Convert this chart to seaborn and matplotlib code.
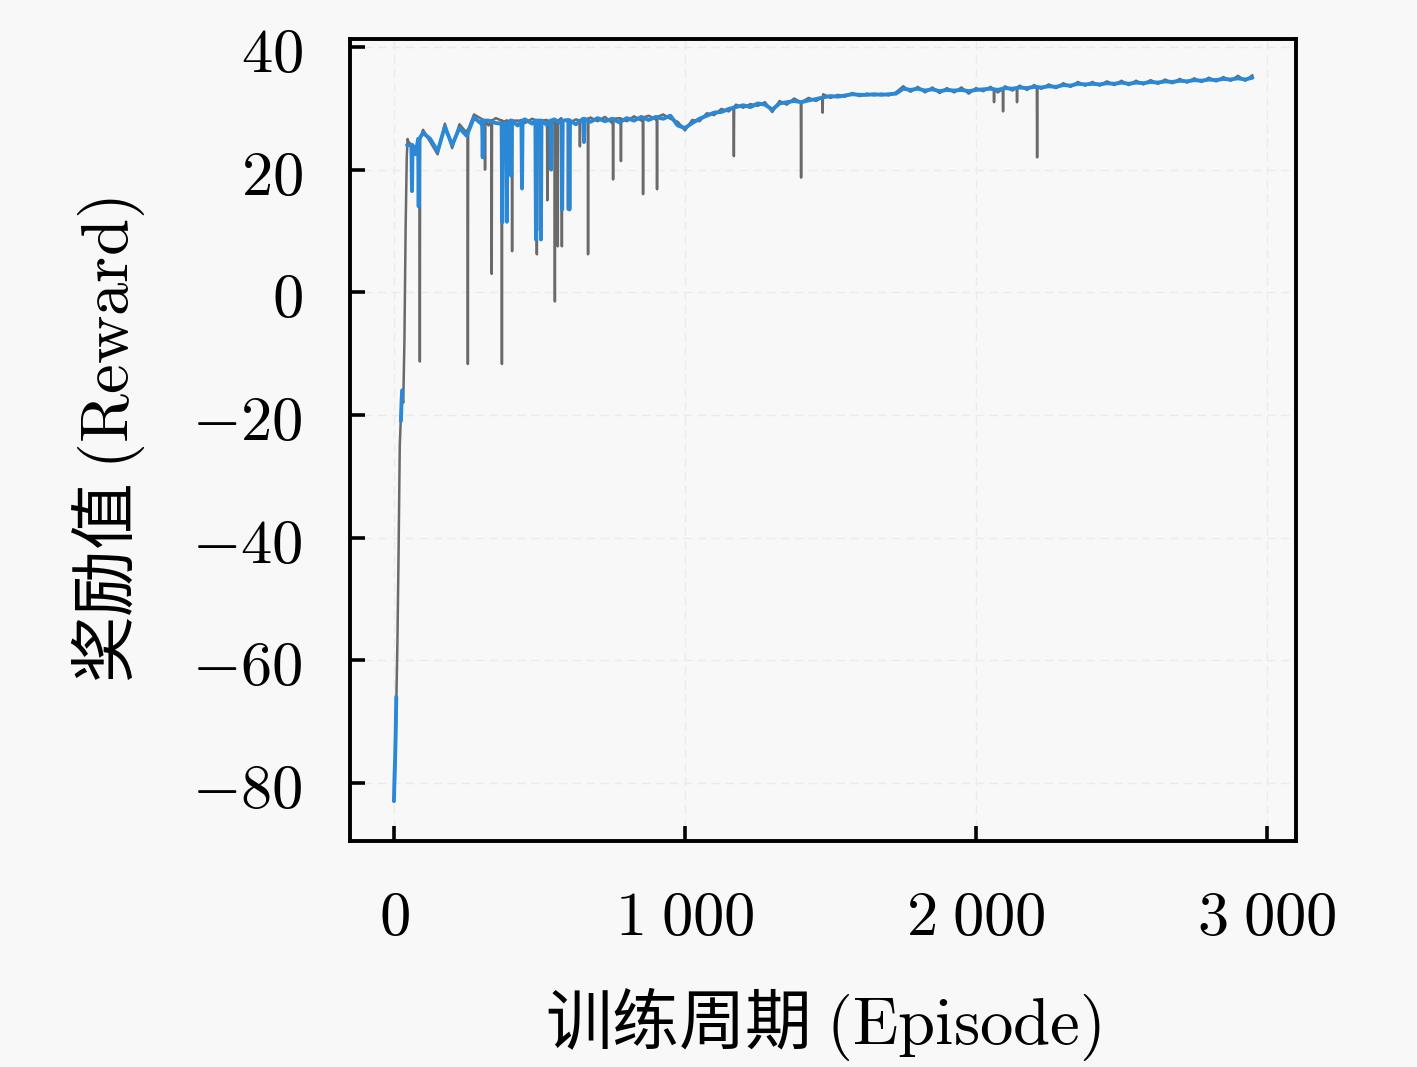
"""
Training reward curve (reward vs. episode), raw and smoothed.
Saves the figure to out.png.
"""

import numpy as np
import pandas as pd
import matplotlib
matplotlib.use("Agg")
import matplotlib.pyplot as plt
import seaborn as sns
from matplotlib.ticker import FuncFormatter

# ---------------------------------------------------------------- data
# early ramp (episodes 0-47)
ramp_ep = [0, 3, 6, 9, 12, 16, 20, 24, 28, 32, 36, 40, 44, 47]
ramp_gray = [-83, -80, -72, -65, -57, -42, -25, -20, -17, -18, -8, 10, 22, 25]
ramp_blue_low_ep = [0, 2, 4, 6, 8]
ramp_blue_low = [-83, -79, -76, -72, -66]
ramp_blue_mid_ep = [24, 26, 28]
ramp_blue_mid = [-21, -18, -16]

# band sampled every 25 episodes from 50 to 2950
band_ep = list(range(50, 2951, 25))
band_blue = [
    24.0, 22.5, 26.0, 25.0, 23.0, 27.0, 24.0, 26.8, 25.5, 28.5,
    27.5, 28.0, 27.6, 27.0, 28.0, 27.2, 28.2, 27.5, 28.0, 27.3,
    28.2, 27.6, 28.1, 27.4, 28.3, 27.8, 28.4, 27.9, 28.3, 27.7,
    28.4, 28.0, 28.6, 28.1, 28.6, 28.3, 28.8, 27.2, 26.8, 27.6,
    28.3, 28.8, 29.3, 29.4, 29.9, 30.2, 30.5, 30.2, 30.8, 30.6,
    29.8, 30.8, 31.0, 31.2, 31.0, 31.3, 31.5, 31.8, 32.0, 31.9,
    32.1, 32.3, 32.2, 32.2, 32.3, 32.2, 32.3, 32.4, 33.2, 33.0,
    33.2, 32.9, 33.1, 32.8, 33.0, 32.9, 33.0, 32.8, 33.0, 33.1,
    33.2, 33.0, 33.3, 33.2, 33.4, 33.3, 33.5, 33.4, 33.6, 33.5,
    33.8, 33.7, 34.0, 33.9, 34.0, 33.9, 34.1, 34.0, 34.2, 34.0,
    34.2, 34.1, 34.3, 34.2, 34.4, 34.3, 34.5, 34.4, 34.6, 34.5,
    34.7, 34.6, 34.8, 34.7, 34.9, 34.7, 35.0,
]
band_gray = [
    24.5, 23.5, 26.5, 24.5, 22.5, 27.5, 23.5, 27.4, 26.0, 29.0,
    28.3, 27.2, 28.4, 27.8, 27.3, 28.0, 27.6, 28.3, 27.4, 28.1,
    27.6, 28.4, 27.5, 28.2, 27.7, 28.5, 27.9, 28.6, 27.6, 28.4,
    27.9, 28.7, 28.0, 28.8, 28.2, 29.0, 28.3, 27.8, 26.4, 28.1,
    27.9, 29.2, 28.9, 29.9, 29.5, 30.6, 30.1, 30.7, 30.4, 31.0,
    29.4, 31.2, 30.6, 31.6, 30.7, 31.7, 31.2, 32.3, 31.7, 32.2,
    31.9, 32.5, 32.0, 32.4, 32.1, 32.4, 32.1, 32.6, 33.6, 32.7,
    33.5, 32.6, 33.4, 32.5, 33.3, 32.6, 33.4, 32.4, 33.3, 32.8,
    33.5, 32.6, 33.6, 32.9, 33.7, 33.0, 33.8, 33.2, 33.9, 33.3,
    34.1, 33.5, 34.3, 33.7, 34.3, 33.7, 34.4, 33.8, 34.5, 33.8,
    34.5, 33.9, 34.6, 34.0, 34.7, 34.1, 34.8, 34.2, 34.9, 34.3,
    35.0, 34.4, 35.1, 34.5, 35.3, 34.5, 35.4,
]

# deep drops in the raw reward: episode, lowest value, level around it
gray_spike_ep = [89, 254, 313, 336, 371, 388, 406, 440, 491, 502, 527, 553,
                 563, 577, 598, 639, 667, 753, 780, 856, 904, 1168, 1399,
                 1473, 2062, 2093, 2141, 2210]
gray_spike_low = [-11.3, -11.7, 20.0, 3.0, -11.7, 22.8, 6.7, 16.8, 6.2, 10.0,
                  15.0, -1.5, 7.5, 7.5, 13.5, 23.8, 6.2, 18.4, 21.4, 16.0,
                  16.8, 22.2, 18.7, 29.3, 31.0, 29.5, 31.0, 22.0]
gray_spike_top = [25.0, 26.5, 28.0, 28.0, 28.0, 28.0, 28.0, 28.0, 28.0, 28.0,
                  28.0, 28.0, 28.0, 28.0, 28.0, 28.0, 28.3, 28.3, 28.3, 28.5,
                  28.6, 30.2, 31.0, 31.8, 33.1, 33.2, 33.4, 33.5]

# shallower drops in the smoothed reward
blue_dip_ep = [62, 85, 305, 372, 388, 403, 440, 488, 505, 540, 578, 603, 653]
blue_dip_low = [16.5, 14.0, 22.0, 11.4, 11.5, 19.0, 17.0, 8.6, 8.6, 20.0,
                13.5, 13.5, 24.5]
blue_dip_top = [24.0, 25.0, 28.0, 27.5, 27.5, 28.0, 28.0, 28.0, 28.0, 28.0,
                28.0, 28.0, 28.3]

X_TICKS = [0, 1000, 2000, 3000]
Y_TICKS = [-80, -60, -40, -20, 0, 20, 40]


def spike_frame(eps, lows, tops, half_width):
    """Each drop becomes a narrow V: level, low, level."""
    rows = []
    for e, lo, top in zip(eps, lows, tops):
        rows += [(e - half_width, top), (e, lo), (e + half_width, top)]
    return pd.DataFrame(rows, columns=["episode", "reward"])


def build_frames():
    gray = pd.concat([
        pd.DataFrame({"episode": ramp_ep, "reward": ramp_gray}),
        pd.DataFrame({"episode": band_ep, "reward": band_gray}),
        spike_frame(gray_spike_ep, gray_spike_low, gray_spike_top, 1),
    ]).sort_values("episode", kind="stable")

    band = pd.concat([
        pd.DataFrame({"episode": [45], "reward": [24.0]}),
        pd.DataFrame({"episode": band_ep, "reward": band_blue}),
        spike_frame(blue_dip_ep, blue_dip_low, blue_dip_top, 2),
    ]).sort_values("episode", kind="stable")
    band["segment"] = 2
    low = pd.DataFrame({"episode": ramp_blue_low_ep, "reward": ramp_blue_low,
                        "segment": 0})
    mid = pd.DataFrame({"episode": ramp_blue_mid_ep, "reward": ramp_blue_mid,
                        "segment": 1})
    blue = pd.concat([low, mid, band], ignore_index=True)
    return gray.reset_index(drop=True), blue


def fmt_num(v, _pos=None):
    v = int(round(v))
    s = f"{abs(v):,}".replace(",", r"\;")
    return f"${'-' if v < 0 else ''}{s}$"


def main():
    assert len(band_ep) == len(band_blue) == len(band_gray)
    gray, blue = build_frames()

    sns.set_theme(style="white")
    plt.rcParams["font.family"] = ["Noto Sans CJK SC", "DejaVu Sans"]
    plt.rcParams["mathtext.fontset"] = "cm"
    plt.rcParams["axes.unicode_minus"] = True

    bg = "#f8f8f8"
    fig = plt.figure(figsize=(14.17, 10.67), dpi=100, facecolor=bg)
    ax = fig.add_axes([0.247, 0.2118, 0.6677, 0.7516])
    ax.set_facecolor(bg)

    sns.lineplot(data=gray, x="episode", y="reward", estimator=None,
                 sort=False, color="#6a6a6a", linewidth=1.8, ax=ax)
    sns.lineplot(data=blue, x="episode", y="reward", units="segment",
                 estimator=None, sort=False, color="#2a88d6", linewidth=2.8,
                 ax=ax)

    ax.set_xlim(-151, 3100)
    ax.set_ylim(-89.5, 41.3)
    ax.set_xticks(X_TICKS)
    ax.set_yticks(Y_TICKS)
    ax.xaxis.set_major_formatter(FuncFormatter(fmt_num))
    ax.yaxis.set_major_formatter(FuncFormatter(fmt_num))

    ax.grid(True, color="#ebebeb", linestyle=(0, (6, 4)), linewidth=1.0)
    ax.set_axisbelow(True)
    for side in ["top", "right", "bottom", "left"]:
        ax.spines[side].set_visible(True)
        ax.spines[side].set_color("black")
        ax.spines[side].set_linewidth(2.8)
    ax.tick_params(axis="both", which="major", direction="in", length=11,
                   width=2.6, color="black", labelsize=45, labelcolor="black",
                   bottom=True, left=True, top=False, right=False)
    ax.tick_params(axis="y", pad=34)
    ax.tick_params(axis="x", pad=32)

    ax.set_xlabel(r"训练周期 $\mathrm{(Episode)}$", fontsize=48, color="black")
    ax.set_ylabel(r"奖励值 $\mathrm{(Reward)}$", fontsize=48, color="black")
    ax.xaxis.set_label_coords(0.5, -0.18)
    ax.yaxis.set_label_coords(-0.215, 0.5)

    fig.savefig("out.png", dpi=100, facecolor=bg)
    plt.close(fig)


if __name__ == "__main__":
    main()
